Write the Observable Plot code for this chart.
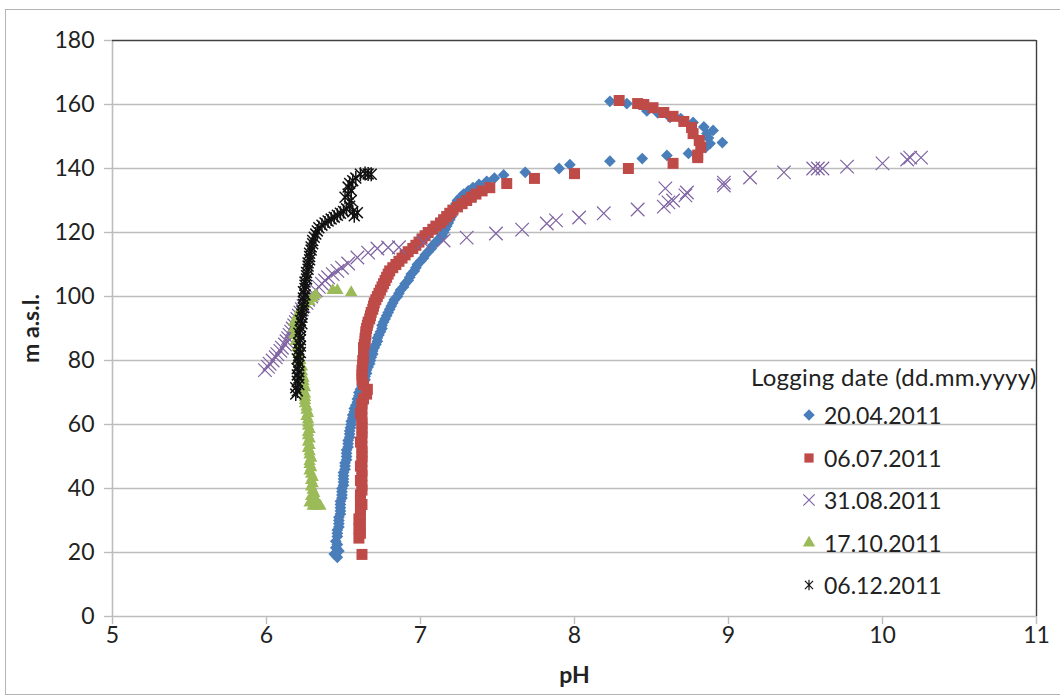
<!DOCTYPE html>
<html>
<head>
<meta charset="utf-8">
<script src="https://cdn.jsdelivr.net/npm/d3@7"></script>
<script src="https://cdn.jsdelivr.net/npm/@observablehq/plot@0.6"></script>
<style>
  body { margin: 0; background: #fff; }
  #wrap { position: relative; width: 1060px; height: 700px; font-family: Lato, "Open Sans", sans-serif; overflow: hidden; }
  #frame { position: absolute; left: 5px; top: 9px; width: 1080px; height: 684px; border: 1px solid #b4b4b4; pointer-events: none; }
  #legend { position: absolute; left: 751px; top: 360px; color: #222; font-size: 23px; }
  #legend .title { height: 34px; line-height: 34px; white-space: nowrap; font-size: 24px; letter-spacing: 0.3px; }
  #legend .row { height: 42.5px; display: flex; align-items: center; padding-left: 49px; }
  #legend .row svg { margin-right: 6px; }
  [aria-label="x-axis label"] text, [aria-label="y-axis label"] text { font-weight: bold; font-size: 23px; }
</style>
</head>
<body>
<div id="wrap"><div id="frame"></div><div id="chart"></div><div id="legend"></div></div>
<script>
// ---- data: [pH, elevation m a.s.l.] ----
const seriesNames = ["20.04.2011", "06.07.2011", "31.08.2011", "17.10.2011", "06.12.2011"];
const seriesColors = ["#4a7ebb", "#be4b48", "#7f63a2", "#9bbb59", "#111111"];
const xTicks = [5, 6, 7, 8, 9, 10, 11];
const yTicks = [0, 20, 40, 60, 80, 100, 120, 140, 160, 180];

const data20Apr = [
[6.46,18.5],[6.44,19.5],[6.47,20.5],[6.45,21.5],[6.46,22.5],[6.45,23.5],[6.46,25],[6.46,26],[6.46,27],[6.47,28],[6.47,29],[6.47,30],[6.47,31],[6.48,32],[6.48,33],[6.48,34],[6.48,35],[6.48,36],[6.49,37],[6.49,38],[6.49,39],[6.49,40],[6.5,41],[6.5,42],[6.5,43],[6.5,44],[6.5,45],[6.51,46],[6.51,47],[6.51,48],[6.52,49],[6.52,50],[6.52,51],[6.52,52],[6.53,53],[6.53,54],[6.53,55],[6.54,56],[6.54,57],[6.54,58],[6.545,59],[6.55,60],[6.55,61],[6.56,62],[6.56,63],[6.57,64],[6.57,65],[6.58,66],[6.59,67],[6.59,68],[6.6,69],[6.6,70],[6.61,71],[6.62,72],[6.63,73],[6.64,74],[6.64,75],[6.65,76],[6.65,77],[6.66,78],[6.67,79],[6.675,80],[6.68,81],[6.69,82],[6.69,83],[6.7,84],[6.71,85],[6.72,86],[6.72,87],[6.73,88],[6.74,89],[6.75,90],[6.75,91],[6.76,92],[6.77,93],[6.78,94],[6.79,95],[6.8,96],[6.81,97],[6.82,98],[6.83,99],[6.85,100],[6.86,101],[6.87,102],[6.89,103],[6.9,104],[6.92,105],[6.93,106],[6.94,107],[6.96,108],[6.97,109],[6.98,110],[7.0,111],[7.02,112],[7.03,113],[7.05,114],[7.07,115],[7.08,116],[7.1,117],[7.12,118],[7.14,119],[7.15,120],[7.16,121],[7.17,122],[7.18,123],[7.19,124],[7.2,125],[7.21,126],[7.22,127],[7.22,128],[7.23,129],[7.24,130],[7.26,131],[7.28,132],[7.31,133],[7.34,134],[7.38,135],[7.43,136],[7.48,137],[7.54,138],
[7.68,138.8],[7.9,140],[7.97,141.2],[8.23,142.3],[8.44,143.1],[8.6,144.1],[8.74,144.7],[8.85,146.5],[8.96,148.1],[8.88,147.8],[8.87,149.5],[8.86,150.9],[8.9,151.9],[8.84,153],[8.77,154.4],[8.69,155.6],[8.62,156],[8.54,157.4],[8.47,158],[8.34,160.3],[8.23,161]
];

const data06Jul = [
[6.62,19.4],[6.6,24.5],[6.61,26],[6.6,27.5],[6.61,29],[6.6,30.5],[6.61,32],[6.61,33.5],[6.62,35],[6.61,36.5],[6.61,38],[6.62,39.5],[6.62,41],[6.61,42.5],[6.62,44],[6.62,45.5],[6.61,47],[6.62,48.5],[6.62,50],[6.62,51.5],[6.62,53],[6.61,54.5],[6.62,56],[6.62,57.5],[6.62,59],[6.62,60.5],[6.62,62],[6.61,63.5],[6.62,65],[6.62,66.5],[6.63,68],[6.65,69.5],[6.655,71],[6.63,72.5],[6.62,74],[6.62,75.5],[6.62,77],[6.625,78.5],[6.625,80],[6.63,81],[6.63,82],[6.63,83],[6.63,84],[6.635,85],[6.64,86],[6.64,87],[6.645,88],[6.645,89],[6.65,90],[6.655,91],[6.66,92],[6.67,93],[6.675,94],[6.68,95],[6.69,96],[6.695,97],[6.7,98],[6.71,99],[6.72,100],[6.73,101],[6.74,102],[6.75,103],[6.76,104],[6.77,105],[6.78,106],[6.79,107],[6.8,108],[6.82,109],[6.84,110],[6.86,111],[6.88,112],[6.9,113],[6.92,114],[6.95,115],[6.97,116],[6.99,117],[7.01,118],[7.03,119],[7.05,120],[7.08,121],[7.1,122],[7.13,123],[7.15,124],[7.17,125],[7.19,126],[7.21,127],[7.24,128],[7.27,129],[7.3,130],[7.33,131],[7.36,132],[7.4,133],[7.45,134],[7.56,135.3],[7.74,136.9],[8.0,138.4],[8.35,140],[8.64,141.6],[8.8,143.4],[8.8,144.2],[8.82,146.6],[8.81,148.75],[8.77,150.9],[8.76,152.8],[8.71,154.7],[8.64,156.3],[8.58,157.5],[8.51,159],[8.45,160],[8.41,160.3],[8.29,161.25]
];

const data31Aug = [
[5.99,77],[6.01,78],[6.02,79],[6.04,80],[6.06,81],[6.07,82],[6.09,83],[6.1,84],[6.12,85],[6.13,86],[6.14,87],[6.15,88],[6.16,89],[6.17,90],[6.18,91],[6.19,92],[6.2,93],[6.21,94],[6.22,95],[6.23,96],[6.24,97],[6.26,98],[6.27,99],[6.29,100],[6.3,101],[6.32,102],[6.34,103],[6.36,104],[6.38,105],[6.4,106],[6.43,107],[6.46,108],[6.49,109],[6.53,110.3],[6.59,112.2],[6.66,113.7],[6.72,115],[6.79,115.3],[6.86,115.4],[7.02,116.9],[7.15,117.5],[7.3,118.4],[7.49,119.7],[7.66,120.9],[7.82,122.8],[7.88,123.8],[8.03,124.7],[8.19,126],[8.41,127.2],[8.58,128.1],[8.61,129.4],[8.64,130],[8.72,131.6],[8.73,132.5],[8.59,133.8],[8.97,134.7],[8.97,135.6],[9.14,137.2],[9.36,138.8],[9.55,140],[9.58,140],[9.61,140],[9.77,140.6],[10.0,141.6],[10.16,142.8],[10.18,143.4],[10.25,143.4]
];

const data17Oct = [
[6.3,34.5],[6.32,34.5],[6.35,34.5],[6.28,35.5],[6.3,36.5],[6.33,35.8],[6.29,37.5],[6.31,38.5],[6.3,39.5],[6.29,40.5],[6.3,41.5],[6.29,42.5],[6.3,43.5],[6.29,44.5],[6.28,45.5],[6.29,46.5],[6.28,47.5],[6.28,48.5],[6.29,49.5],[6.28,50.5],[6.28,51.5],[6.27,52.5],[6.28,53.5],[6.27,54.5],[6.28,55.5],[6.27,56.5],[6.27,57.5],[6.28,58.5],[6.27,59.5],[6.27,60.5],[6.27,61.5],[6.26,62.5],[6.27,63.5],[6.26,64.5],[6.26,65.5],[6.25,66.5],[6.25,67.5],[6.25,68.5],[6.25,69.5],[6.24,70.5],[6.25,71.5],[6.24,72.5],[6.24,73.5],[6.24,74.5],[6.23,75.5],[6.23,76.5],[6.23,78],[6.22,80],[6.21,82],[6.2,84],[6.19,86],[6.18,88],[6.18,90],[6.18,92],[6.2,94],[6.22,96],[6.25,97.5],[6.28,98.5],[6.3,99.5],[6.32,100.5],[6.43,101.9],[6.46,101.9],[6.55,101.3]
];

const data06Dec = [
[6.19,69.5],[6.2,70.5],[6.19,71.5],[6.21,72.5],[6.2,73.5],[6.21,74.5],[6.2,75.5],[6.21,76.5],[6.2,77.5],[6.21,78.5],[6.21,79.5],[6.2,80.5],[6.21,81.5],[6.22,82.5],[6.21,83.5],[6.22,84.5],[6.21,85.5],[6.22,86.5],[6.22,87.5],[6.21,88.5],[6.22,89.5],[6.22,90.5],[6.23,91.5],[6.22,92.5],[6.23,93.5],[6.23,94.5],[6.23,95.5],[6.24,96.5],[6.24,97.5],[6.24,98.5],[6.24,99.5],[6.25,100.5],[6.24,101.5],[6.25,102.5],[6.25,103.5],[6.25,104.5],[6.26,105.5],[6.26,106.5],[6.26,107.5],[6.27,108.5],[6.27,109.5],[6.27,110.5],[6.28,111.5],[6.28,112.5],[6.28,113.5],[6.29,114.5],[6.29,115.5],[6.3,116.5],[6.3,117.5],[6.31,118.5],[6.32,119.5],[6.33,120.5],[6.34,121.5],[6.36,122.3],[6.38,123],[6.4,123.6],[6.42,124.2],[6.44,124.8],[6.46,125.4],[6.48,126],[6.5,126.6],[6.52,127.4],[6.54,128.2],[6.57,125.2],[6.56,126.5],[6.59,126.2],[6.55,130],[6.51,131],[6.53,132],[6.55,133.1],[6.53,134.2],[6.54,135.3],[6.56,136.2],[6.58,137],[6.61,138.2],[6.64,138.4],[6.66,138.3],[6.68,138.2]
];

// Excel-like "star" marker: an x crossed by a vertical bar
const starSymbol = {
  draw(ctx, size) {
    const r = Math.sqrt(size / Math.PI), d = r * 0.78;
    ctx.moveTo(0, -r); ctx.lineTo(0, r);
    ctx.moveTo(-d, -d); ctx.lineTo(d, d);
    ctx.moveTo(-d, d); ctx.lineTo(d, -d);
  }
};

const seriesData = [data20Apr, data06Jul, data31Aug, data17Oct, data06Dec];
const markerStyles = [
  {symbol: "diamond2", r: 5.3, fill: seriesColors[0], stroke: "none"},
  {symbol: "square", r: 6.2, fill: seriesColors[1], stroke: "none"},
  {symbol: "times", r: 6.2, fill: "none", stroke: seriesColors[2], strokeWidth: 1.2},
  {symbol: "triangle", r: 4.6, fill: seriesColors[3], stroke: "none"},
  {symbol: starSymbol, r: 7, fill: "none", stroke: seriesColors[4], strokeWidth: 1.5}
];

const chart = Plot.plot({
  width: 1060,
  height: 700,
  marginLeft: 112,
  marginRight: 24,
  marginTop: 40,
  marginBottom: 84,
  style: {fontFamily: "Lato, 'Open Sans', sans-serif", fontSize: "23px", color: "#222", background: "transparent", overflow: "visible"},
  x: {domain: [5, 11]},
  y: {domain: [0, 180]},
  marks: [
    Plot.gridY(yTicks.filter(t => t > 0 && t < 180), {stroke: "#bdbdbd", strokeOpacity: 1, strokeWidth: 1.6}),
    Plot.ruleY([0], {stroke: "#bdbdbd", strokeWidth: 1.6}),
    Plot.ruleX([5], {stroke: "#bdbdbd", strokeWidth: 1.6}),
    Plot.ruleY([180], {stroke: "#404040", strokeWidth: 1.4}),
    Plot.ruleX([11], {stroke: "#404040", strokeWidth: 1.4}),
    Plot.axisX(xTicks, {tickSize: 8, tickPadding: 2, tickFormat: d3.format("d"), stroke: "#bdbdbd", strokeWidth: 1.4, fill: "#222", fontSize: 23,
      label: "pH", labelAnchor: "center", labelArrow: "none", labelOffset: 66}),
    Plot.axisY(yTicks, {tickSize: 8, tickPadding: 10, stroke: "#bdbdbd", strokeWidth: 1.4, fill: "#222", fontSize: 23,
      label: "m a.s.l.", labelAnchor: "center", labelArrow: "none", labelOffset: 90}),
    ...seriesData.map((d, i) => Plot.dot(d, {x: p => p[0], y: p => p[1], ...markerStyles[i]}))
  ]
});
document.getElementById("chart").appendChild(chart);

// legend
const legend = d3.select("#legend");
legend.append("div").attr("class", "title").text("Logging date (dd.mm.yyyy)");
seriesNames.forEach((name, i) => {
  const row = legend.append("div").attr("class", "row");
  const m = markerStyles[i];
  const type = typeof m.symbol === "string" ? d3["symbol" + m.symbol[0].toUpperCase() + m.symbol.slice(1)] : m.symbol;
  const lr = Math.min(m.r, 5.2);
  const svg = row.append("svg").attr("width", 18).attr("height", 18);
  svg.append("path")
    .attr("transform", "translate(9,9)")
    .attr("d", d3.symbol(type, lr * lr * Math.PI)())
    .attr("fill", m.fill).attr("stroke", m.stroke).attr("stroke-width", Math.min(m.strokeWidth || 0, 1.2) || null);
  row.append("span").text(name);
});
</script>
</body>
</html>
